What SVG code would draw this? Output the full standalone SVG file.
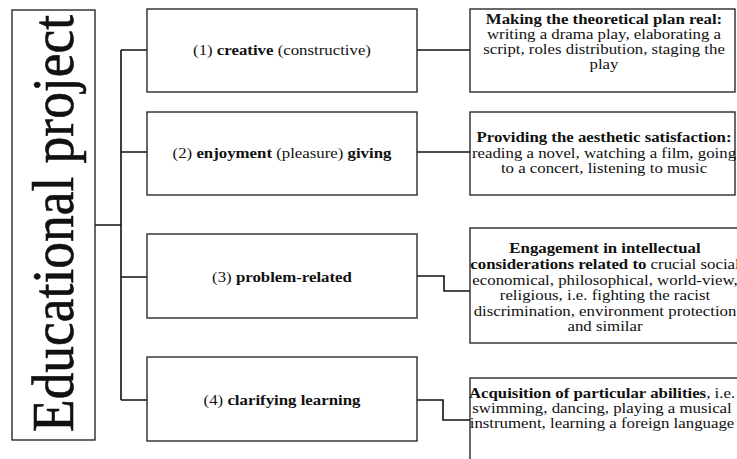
<svg xmlns="http://www.w3.org/2000/svg" width="737" height="459" viewBox="0 0 737 459">
<style>
.box{fill:#fff;stroke:#2a2a2a;stroke-width:1.4}
.con{fill:none;stroke:#111;stroke-width:1.6}
text{font-family:"Liberation Serif","Times New Roman",serif;fill:#111}
.t{font-size:15.5px;text-anchor:middle}
.b{font-weight:bold}
.title{font-size:60px;stroke:#111;stroke-width:0.6}
</style>
<rect width="737" height="459" fill="#fff"/>
<g id="connectors">
<path class="con" d="M95,225 H121 M121,50 V400 M121,50 H147 M121,152 H147 M121,277 H147 M121,400 H147"/>
<path class="con" d="M417,50 H470 M417,152 H470 M417,276 H444 V291 H470 M417,400 H443 V420 H470"/>
</g>
<g id="root">
<rect class="box" x="12" y="10" width="83" height="430"/>
<text class="title" transform="translate(73,432) rotate(-90)" textLength="417" lengthAdjust="spacingAndGlyphs">Educational project</text>
</g>
<g id="n1">
<rect class="box" x="147" y="9" width="270" height="83"/>
<g transform="translate(282 0) scale(1.085 1)"><text class="t" x="0" y="55.5">(1) <tspan class="b">creative</tspan> (constructive)</text></g>
</g>
<g id="n2">
<rect class="box" x="147" y="112" width="270" height="83"/>
<g transform="translate(282 0) scale(1.085 1)"><text class="t" x="0" y="158.5">(2) <tspan class="b">enjoyment</tspan> (pleasure) <tspan class="b">giving</tspan></text></g>
</g>
<g id="n3">
<rect class="box" x="147" y="234" width="270" height="84"/>
<g transform="translate(282 0) scale(1.085 1)"><text class="t" x="0" y="282">(3) <tspan class="b">problem-related</tspan></text></g>
</g>
<g id="n4">
<rect class="box" x="147" y="357" width="270" height="84"/>
<g transform="translate(282 0) scale(1.085 1)"><text class="t" x="0" y="405">(4) <tspan class="b">clarifying learning</tspan></text></g>
</g>
<g id="d1">
<rect class="box" x="470" y="9" width="265" height="83"/>
<g transform="translate(604 0) scale(1.085 1)">
<text class="t b" x="0" y="24">Making the theoretical plan real:</text>
<text class="t" x="0" y="39">writing a drama play, elaborating a</text>
<text class="t" x="0" y="54">script, roles distribution, staging the</text>
<text class="t" x="0" y="69">play</text>
</g>
</g>
<g id="d2">
<rect class="box" x="470" y="112" width="265" height="83"/>
<g transform="translate(604 0) scale(1.085 1)">
<text class="t b" x="0" y="142.5">Providing the aesthetic satisfaction:</text>
<text class="t" x="0" y="158">reading a novel, watching a film, going</text>
<text class="t" x="0" y="173.5">to a concert, listening to music</text>
</g>
</g>
<g id="d3">
<rect class="box" x="470" y="228" width="275" height="115"/>
<g transform="translate(605 0) scale(1.085 1)">
<text class="t b" x="0" y="253">Engagement in intellectual</text>
<text class="t" x="0" y="269"><tspan class="b">considerations related to</tspan> crucial social</text>
<text class="t" x="0" y="285">economical, philosophical, world-view,</text>
<text class="t" x="0" y="300.5">religious, i.e. fighting the racist</text>
<text class="t" x="0" y="316">discrimination, environment protection</text>
<text class="t" x="0" y="331.5">and similar</text>
</g>
</g>
<g id="d4">
<rect class="box" x="470" y="378" width="275" height="95"/>
<g transform="translate(602 0) scale(1.085 1)">
<text class="t" x="0" y="398.5"><tspan class="b">Acquisition of particular abilities</tspan>, i.e.</text>
<text class="t" x="0" y="413.5">swimming, dancing, playing a musical</text>
<text class="t" x="0" y="428.5">instrument, learning a foreign language</text>
</g>
</g>
</svg>
